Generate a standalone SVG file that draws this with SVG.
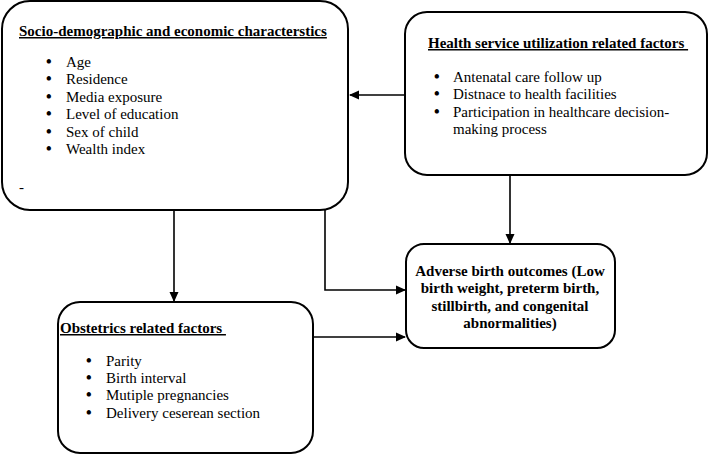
<svg xmlns="http://www.w3.org/2000/svg" width="709" height="455" viewBox="0 0 709 455">
<defs>
<marker id="ah" markerWidth="10" markerHeight="10" refX="9" refY="5" orient="auto" markerUnits="userSpaceOnUse">
<path d="M0,0.5 L10,5 L0,9.5 z" fill="#000"/>
</marker>
<style>
.box{fill:#fff;stroke:#000;stroke-width:2}
.t{font-family:"Liberation Serif","Times New Roman",serif;font-size:15px;fill:#000}
.h{font-weight:bold;text-decoration:underline}
.b{font-weight:bold}
.d{font-size:16px;font-weight:bold}
.c{fill:none;stroke:#000;stroke-width:1.6}
</style>
</defs>
<rect width="709" height="455" fill="#fff"/>
<g id="connectors">
<path class="c" d="M405,95 L350,95" marker-end="url(#ah)"/>
<path class="c" d="M510,175 L510,243" marker-end="url(#ah)"/>
<path class="c" d="M325,210 L325,290 L405,290" marker-end="url(#ah)"/>
<path class="c" d="M174,210 L174,301" marker-end="url(#ah)"/>
<path class="c" d="M313,337 L405,337" marker-end="url(#ah)"/>
</g>
<g id="socio">
<rect class="box" x="2" y="1" width="346" height="209" rx="28"/>
<text class="t h" x="19" y="36">Socio-demographic and economic characterstics</text>
<g class="t">
<text class="d" x="46" y="67">•</text><text x="66" y="67">Age</text>
<text class="d" x="46" y="84">•</text><text x="66" y="84">Residence</text>
<text class="d" x="46" y="102">•</text><text x="66" y="102">Media exposure</text>
<text class="d" x="46" y="119">•</text><text x="66" y="119">Level of education</text>
<text class="d" x="46" y="137">•</text><text x="66" y="137">Sex of child</text>
<text class="d" x="46" y="154">•</text><text x="66" y="154">Wealth index</text>
<text x="19" y="192">-</text>
</g>
</g>
<g id="health">
<rect class="box" x="405" y="12" width="302" height="163" rx="22"/>
<text class="t h" x="428" y="48" xml:space="preserve">Health service utilization related factors </text>
<g class="t">
<text class="d" x="434" y="82">•</text><text x="453" y="82">Antenatal care follow up</text>
<text class="d" x="434" y="99">•</text><text x="453" y="99">Distnace to health facilities</text>
<text class="d" x="434" y="117">•</text><text x="453" y="117">Participation in healthcare decision-</text>
<text x="453" y="134">making process</text>
</g>
</g>
<g id="adverse">
<rect class="box" x="406" y="244" width="209" height="104" rx="18"/>
<g class="t b" text-anchor="middle">
<text x="510" y="276">Adverse birth outcomes (Low</text>
<text x="510" y="293">birth weight, preterm birth,</text>
<text x="510" y="311">stillbirth, and congenital</text>
<text x="510" y="328">abnormalities)</text>
</g>
</g>
<g id="obstetrics">
<rect class="box" x="58" y="302" width="255" height="151" rx="22"/>
<text class="t h" x="60" y="333" xml:space="preserve">Obstetrics related factors </text>
<g class="t">
<text class="d" x="86" y="366">•</text><text x="106" y="366">Parity</text>
<text class="d" x="86" y="383">•</text><text x="106" y="383">Birth interval</text>
<text class="d" x="86" y="400">•</text><text x="106" y="400">Mutiple pregnancies</text>
<text class="d" x="86" y="418">•</text><text x="106" y="418">Delivery ceserean section</text>
</g>
</g>
</svg>
